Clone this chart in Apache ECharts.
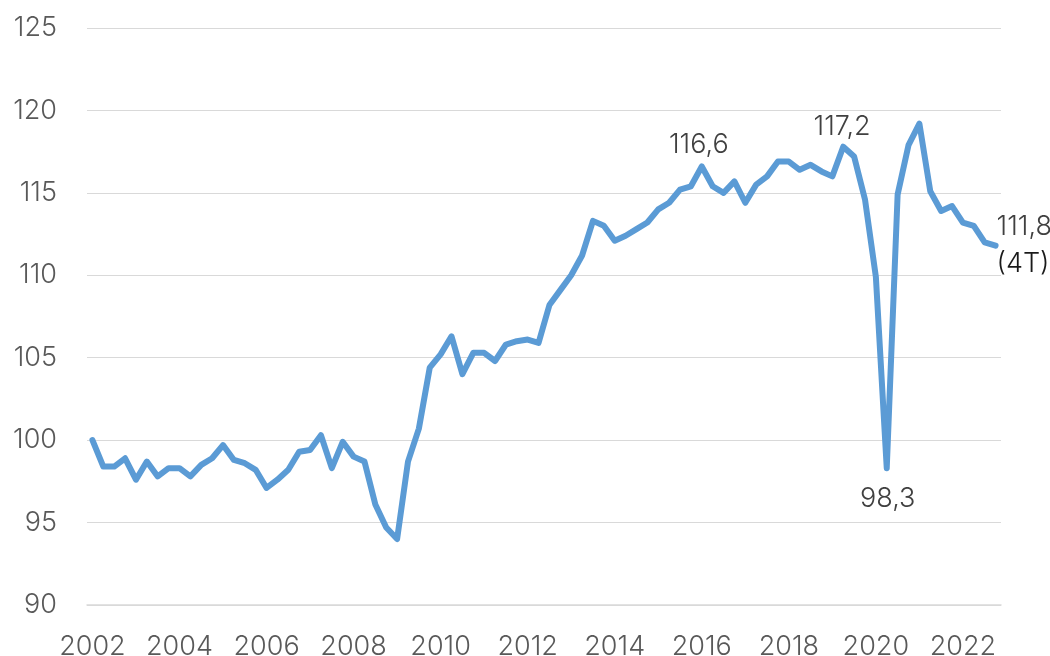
<!DOCTYPE html>
<html>
<head>
<meta charset="utf-8">
<script src="https://cdn.jsdelivr.net/npm/echarts@6/dist/echarts.min.js"></script>
<style>
  html, body { margin: 0; padding: 0; background: #ffffff; }
  #chart { width: 1050px; height: 656px; }
</style>
</head>
<body>
<div id="chart"></div>
<script>
// Quarterly index, 2002 T1 – 2022 T4
const years = [2002, 2003, 2004, 2005, 2006, 2007, 2008, 2009, 2010, 2011, 2012,
               2013, 2014, 2015, 2016, 2017, 2018, 2019, 2020, 2021, 2022];
const quarters = ['T1', 'T2', 'T3', 'T4'];

const values = [
  100.0, 98.4, 98.4, 98.9,   // 2002
  97.6, 98.7, 97.8, 98.3,    // 2003
  98.3, 97.8, 98.5, 98.9,    // 2004
  99.7, 98.8, 98.6, 98.2,    // 2005
  97.1, 97.6, 98.2, 99.3,    // 2006
  99.4, 100.3, 98.3, 99.9,   // 2007
  99.0, 98.7, 96.1, 94.7,    // 2008
  94.0, 98.7, 100.7, 104.4,  // 2009
  105.2, 106.3, 104.0, 105.3,// 2010
  105.3, 104.8, 105.8, 106.0,// 2011
  106.1, 105.9, 108.2, 109.1,// 2012
  110.0, 111.2, 113.3, 113.0,// 2013
  112.1, 112.4, 112.8, 113.2,// 2014
  114.0, 114.4, 115.2, 115.4,// 2015
  116.6, 115.4, 115.0, 115.7,// 2016
  114.4, 115.5, 116.0, 116.9,// 2017
  116.9, 116.4, 116.7, 116.3,// 2018
  116.0, 117.8, 117.2, 114.6,// 2019
  109.9, 98.3, 114.9, 117.9, // 2020
  119.2, 115.1, 113.9, 114.2,// 2021
  113.2, 113.0, 112.0, 111.8 // 2022
];

// Annotated quarters (index into values) and where their label sits
const annotated = [
  { idx: 56, position: 'top',    distance: 8,  offset: [-3, 0] },
  { idx: 70, position: 'top',    distance: 8,  offset: [-12, -8] },
  { idx: 73, position: 'bottom', distance: 17, offset: [1, 0] },
  { idx: 83, position: 'right',  distance: 1,  offset: [0, 0], suffix: '(4T)' }
];

const yTicks = { min: 90, max: 125, interval: 5 };

const categories = [];
years.forEach(y => quarters.forEach(q => categories.push(y + ' ' + q)));

const fmt = v => v.toFixed(1).replace('.', ',');
const FONT = 'Inter';

const seriesData = values.map((v, i) => {
  const a = annotated.find(x => x.idx === i);
  if (!a) return { value: v, label: { show: false } };
  return {
    value: v,
    label: {
      show: true,
      position: a.position,
      distance: a.distance,
      offset: a.offset,
      align: a.position === 'right' ? 'left' : 'center',
      formatter: a.suffix ? '{v|' + fmt(v) + '}\n{s|' + a.suffix + '}' : fmt(v),
      rich: a.suffix ? {
        v: { fontFamily: FONT, fontWeight: 300, fontSize: 27, color: '#404040', lineHeight: 37 },
        s: { fontFamily: FONT, fontWeight: 300, fontSize: 27, color: '#1a1a1a', lineHeight: 37 }
      } : undefined
    }
  };
});

const chart = echarts.init(document.getElementById('chart'), null, { renderer: 'canvas' });

chart.setOption({
  animation: false,
  backgroundColor: '#ffffff',
  grid: { left: 87, right: 49, top: 28, bottom: 51, containLabel: false, outerBoundsMode: 'none' },
  xAxis: {
    type: 'category',
    data: categories,
    boundaryGap: true,
    axisLine: { show: true, lineStyle: { color: '#d9d9d9', width: 1.5 } },
    axisTick: { show: false },
    axisLabel: {
      interval: 7,
      margin: 28,
      fontFamily: FONT,
      fontWeight: 300,
      fontSize: 27,
      color: '#595959',
      formatter: v => v.split(' ')[0]
    },
    splitLine: { show: false }
  },
  yAxis: {
    type: 'value',
    min: yTicks.min,
    max: yTicks.max,
    interval: yTicks.interval,
    axisLine: { show: false },
    axisTick: { show: false },
    axisLabel: {
      margin: 30,
      fontFamily: FONT,
      fontWeight: 300,
      fontSize: 27,
      color: '#595959'
    },
    splitLine: { show: true, lineStyle: { color: '#d9d9d9', width: 1 } }
  },
  series: [{
    type: 'line',
    data: seriesData,
    showSymbol: true,
    symbol: 'circle',
    symbolSize: 0,
    itemStyle: { color: '#5b9bd5' },
    lineStyle: { color: '#5b9bd5', width: 6, cap: 'round', join: 'round' },
    label: {
      fontFamily: FONT,
      fontWeight: 300,
      fontSize: 27,
      color: '#404040'
    },
    emphasis: { disabled: true },
    clip: false
  }]
});
</script>
</body>
</html>
